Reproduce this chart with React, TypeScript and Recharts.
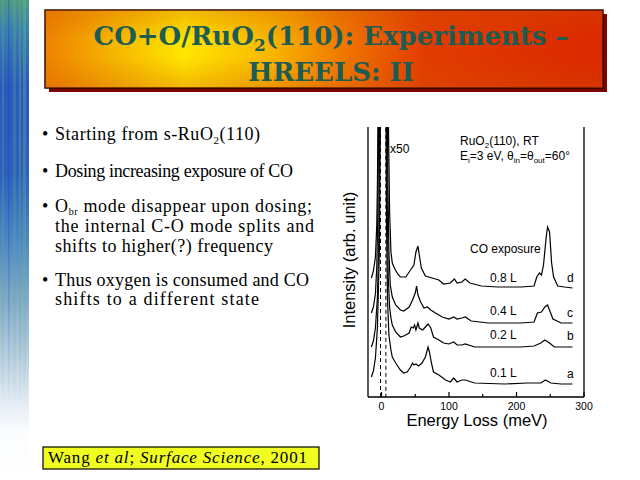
import React from "react";
import { LineChart, Line, XAxis, YAxis, ReferenceLine } from "recharts";

// HREELS of CO dosed on s-RuO2(110). Energy loss in meV, intensity in arb. units
// (spectra are vertically offset, the elastic peak runs off the top at x50)
const spectrumA: [number, number][] = [
  [-15, 20], [-12, 26], [-9, 39], [-6, 70], [-3, 150], [-1.5, 300], [-0.5, 600], [0, 800], [4, 600], [6.5, 300],
  [7.5, 170], [9, 95], [11, 62], [14, 47], [16, 40], [21, 34], [28, 27], [33, 24], [38, 25], [43, 30], [46, 34],
  [48, 32], [51, 33], [55, 31], [60, 34], [65, 40], [69, 50], [71, 45], [74, 34], [77, 25], [85, 22], [95, 17],
  [102, 15], [107, 19], [112, 15], [119, 17], [124, 17], [138, 14], [182, 13], [216, 14], [236, 14],
  [243, 17], [251, 14], [266, 13], [283, 13],
];
const spectrumB: [number, number][] = [
  [-15, 50], [-12, 56], [-9, 69], [-6, 100], [-4, 160], [-2.5, 300], [-1, 600], [0, 800], [5, 600], [7.5, 300],
  [8.5, 190], [10, 120], [12, 90], [14, 79], [16, 72], [21, 65], [28, 60], [33, 61], [41, 64], [44, 70],
  [47, 69], [49, 72], [51, 67], [54, 74], [56, 69], [61, 67], [65, 70], [69, 73], [73, 69], [77, 60], [85, 57],
  [92, 54], [100, 53], [107, 55], [112, 52], [119, 52], [124, 53], [138, 50], [167, 50], [207, 50], [226, 51],
  [236, 54], [242, 57], [249, 54], [256, 50], [266, 50], [283, 50],
];
const spectrumC: [number, number][] = [
  [-15, 84], [-12, 90], [-9, 103], [-7, 130], [-5.5, 180], [-4, 300], [-2, 600], [0, 800], [6, 600], [8.5, 300],
  [9.5, 210], [11, 145], [13, 112], [16, 100], [21, 92], [28, 87], [33, 86], [41, 90], [46, 97], [50, 104],
  [52, 111], [54, 102], [58, 95], [63, 89], [68, 90], [73, 87], [80, 84], [90, 80], [100, 78], [107, 80],
  [112, 78], [119, 79], [124, 80], [133, 76], [158, 74], [207, 74], [226, 75], [231, 84], [237, 85], [242, 90],
  [246, 92], [250, 85], [254, 78], [266, 74], [283, 74],
];
const spectrumD: [number, number][] = [
  [-15, 119], [-12, 126], [-9, 140], [-7, 172], [-6, 215], [-5, 300], [-3, 600], [0, 800], [8, 600], [10, 300],
  [10.5, 260], [12, 185], [14, 145], [16, 134], [19, 129], [24, 123], [28, 120], [36, 120], [43, 127],
  [48, 132], [51, 145], [54, 151], [56, 142], [59, 129], [65, 121], [75, 119], [85, 117], [92, 113], [102, 114],
  [108, 118], [112, 114], [119, 115], [124, 118], [131, 114], [148, 111], [172, 110], [207, 110], [226, 111],
  [230, 120], [234, 124], [237, 122], [240, 132], [244, 160], [246, 170], [249, 165], [252, 134], [255, 120],
  [261, 111], [271, 110], [283, 109],
];
// unscaled (x1) elastic peak, drawn dashed; its top is far off scale
const elasticX1: [number, number][] = [[-1.5, 0], [-1.3, 1000], [6.3, 1000], [6.5, 0]];

const xTicks = [0, 50, 100, 150, 200, 250, 300];
const exposures = ["0.8 L", "0.4 L", "0.2 L", "0.1 L"];
const letters = ["d", "c", "b", "a"];

const SANS = "'Liberation Sans', Arial, Helvetica, sans-serif";
const SERIF = "'Liberation Serif', 'Times New Roman', serif";

const pts = (arr: [number, number][]) => arr.map(([e, i]) => ({ e, i }));

function BottomTick(props: any) {
  const { x, y, payload } = props;
  const major = payload.value % 100 === 0;
  return (
    <g>
      <line x1={x} x2={x} y1={y} y2={y - (major ? 5 : 3)} stroke="#000" strokeWidth={1.2} />
      {major && (
        <text x={x} y={y + 12.5} textAnchor="middle" fontSize={10.5} fontFamily={SANS} fill="#000">
          {payload.value}
        </text>
      )}
    </g>
  );
}

function TopTick(props: any) {
  const { x, y, payload } = props;
  const major = payload.value % 100 === 0;
  return <line x1={x} x2={x} y1={y} y2={y + (major ? 5 : 3)} stroke="#000" strokeWidth={1.2} />;
}

function Spectra() {
  const series = [spectrumA, spectrumB, spectrumC, spectrumD];
  return (
    <LineChart width={280} height={320} margin={{ top: 12, right: 26, left: 38, bottom: 0 }}>
      <XAxis
        type="number"
        dataKey="e"
        domain={[-20, 300]}
        allowDataOverflow
        ticks={xTicks}
        interval={0}
        height={38}
        tickSize={0}
        tickMargin={0}
        tickLine={false}
        axisLine={{ stroke: "#000", strokeWidth: 1.3 }}
        tick={(p: any) => <BottomTick {...p} />}
      />
      <XAxis
        xAxisId="top"
        orientation="top"
        type="number"
        dataKey="e"
        domain={[-20, 300]}
        allowDataOverflow
        ticks={xTicks}
        interval={0}
        height={0}
        tickSize={0}
        tickMargin={0}
        tickLine={false}
        axisLine={{ stroke: "#000", strokeWidth: 1.3 }}
        tick={(p: any) => <TopTick {...p} />}
      />
      <YAxis type="number" dataKey="i" domain={[0, 270]} allowDataOverflow hide />
      <ReferenceLine x={-20} stroke="#000" strokeWidth={1.3} />
      <ReferenceLine x={300} stroke="#000" strokeWidth={1.3} />
      <Line
        data={pts(elasticX1)}
        dataKey="i"
        stroke="#000"
        strokeWidth={1}
        strokeDasharray="4 3"
        dot={false}
        isAnimationActive={false}
      />
      {series.map((s, k) => (
        <Line
          key={k}
          data={pts(s)}
          dataKey="i"
          type="linear"
          stroke="#000"
          strokeWidth={1.2}
          dot={false}
          isAnimationActive={false}
        />
      ))}
    </LineChart>
  );
}

export default function App() {
  const labelY = [282, 315, 339, 377];
  const letterY = [282, 317, 340, 378];
  return (
    <div style={{ position: "absolute", left: 0, top: 0, width: 640, height: 480, background: "#fff", overflow: "hidden" }}>
      <svg width={640} height={480} style={{ position: "absolute", left: 0, top: 0 }}>
        <defs>
          <linearGradient id="strip" x1="0" y1="0" x2="0" y2="1">
            <stop offset="0" stopColor="#4f9a86" />
            <stop offset="0.06" stopColor="#3a7fb4" />
            <stop offset="0.18" stopColor="#2b58c2" />
            <stop offset="0.36" stopColor="#2d5fc0" />
            <stop offset="0.5" stopColor="#4d86c6" />
            <stop offset="0.62" stopColor="#7fa9c9" />
            <stop offset="0.74" stopColor="#b6cde0" />
            <stop offset="0.84" stopColor="#e4ecf4" />
            <stop offset="0.9" stopColor="#fafcfe" />
            <stop offset="1" stopColor="#ffffff" />
          </linearGradient>
          <linearGradient id="fade" x1="0" y1="0" x2="0" y2="1">
            <stop offset="0" stopColor="#fff" stopOpacity="1" />
            <stop offset="0.6" stopColor="#fff" stopOpacity="0.7" />
            <stop offset="0.85" stopColor="#fff" stopOpacity="0" />
          </linearGradient>
          <mask id="streakMask">
            <rect x={0} y={0} width={29} height={480} fill="url(#fade)" />
          </mask>
          <linearGradient id="titleGrad" x1="0" y1="0" x2="1" y2="0">
            <stop offset="0" stopColor="#ee8200" />
            <stop offset="0.12" stopColor="#f6b400" />
            <stop offset="0.25" stopColor="#ffe600" />
            <stop offset="0.4" stopColor="#f9b800" />
            <stop offset="0.55" stopColor="#ee7000" />
            <stop offset="0.68" stopColor="#e23c00" />
            <stop offset="1" stopColor="#db2800" />
          </linearGradient>
          <linearGradient id="titleShade" x1="0" y1="0" x2="0" y2="1">
            <stop offset="0" stopColor="#d05000" stopOpacity="0.3" />
            <stop offset="0.4" stopColor="#d05000" stopOpacity="0" />
            <stop offset="0.6" stopColor="#d05000" stopOpacity="0" />
            <stop offset="1" stopColor="#d05000" stopOpacity="0.3" />
          </linearGradient>
        </defs>

        {/* left decorative strip */}
        <rect x={0} y={0} width={29} height={480} fill="url(#strip)" />
        <g mask="url(#streakMask)">
          <rect x={2} y={0} width={2} height={480} fill="#5fb070" opacity={0.35} />
          <rect x={8} y={0} width={1.5} height={480} fill="#1a3a9a" opacity={0.3} />
          <rect x={13} y={0} width={3} height={480} fill="#62b478" opacity={0.3} />
          <rect x={19} y={0} width={2} height={480} fill="#5ab070" opacity={0.45} />
          <rect x={23} y={0} width={3} height={480} fill="#6cbc80" opacity={0.4} />
        </g>

        {/* title box */}
        <rect x={49} y={14} width={558} height={78} fill="#7a0505" />
        <rect x={45} y={10} width={558} height={78} fill="url(#titleGrad)" stroke="#2a0800" strokeWidth={1.5} />
        <rect x={45} y={10} width={558} height={78} fill="url(#titleShade)" />
        <g fontFamily="'DejaVu Serif', serif" fontWeight="bold" fontSize={26} fill="#1c5c52" textAnchor="middle">
          <text x={331} y={45}>
            CO+O/RuO<tspan fontSize={17} dy={6}>2</tspan>
            <tspan dy={-6}>(110): Experiments –</tspan>
          </text>
          <text x={331} y={81}>HREELS: II</text>
        </g>

        {/* bullets */}
        <g fontFamily={SERIF} fontSize={18} fill="#000">
          {[140, 177, 212, 286].map((y) => (
            <text key={y} x={42} y={y} fontSize={18}>•</text>
          ))}
          <text x={55} y={140} textLength={205} lengthAdjust="spacing">
            Starting from s-RuO<tspan fontSize={11} dy={4}>2</tspan>
            <tspan dy={-4}>(110)</tspan>
          </text>
          <text x={55} y={177} textLength={238} lengthAdjust="spacing">Dosing increasing exposure of CO</text>
          <text x={55} y={212} textLength={257} lengthAdjust="spacing">
            O<tspan fontSize={10} dy={3}>br</tspan>
            <tspan dy={-3}> mode disappear upon dosing;</tspan>
          </text>
          <text x={55} y={232} textLength={259} lengthAdjust="spacing">the internal C-O mode splits and</text>
          <text x={55} y={252} textLength={218} lengthAdjust="spacing">shifts to higher(?) frequency</text>
          <text x={55} y={286} textLength={254} lengthAdjust="spacing">Thus oxygen is consumed and CO</text>
          <text x={55} y={305} textLength={204} lengthAdjust="spacing">shifts to a different state</text>
        </g>

        {/* citation */}
        <rect x={43} y={447} width={276} height={22} fill="#f0ff20" stroke="#000" strokeWidth={1.2} />
        <text x={48} y={463} fontFamily={SERIF} fontSize={17} fill="#000" textLength={259} lengthAdjust="spacing">
          Wang <tspan fontStyle="italic">et al</tspan>; <tspan fontStyle="italic">Surface Science</tspan>, 2001
        </text>

        {/* chart annotations */}
        <g fontFamily={SANS} fill="#000">
          <text x={390} y={153} fontSize={12}>x50</text>
          <text x={460} y={145} fontSize={12}>
            RuO<tspan fontSize={8} dy={3}>2</tspan>
            <tspan dy={-3}>(110), RT</tspan>
          </text>
          <text x={460} y={160} fontSize={12}>
            E<tspan fontSize={8} dy={3}>i</tspan>
            <tspan dy={-3}>=3 eV, θ</tspan>
            <tspan fontSize={8} dy={3}>in</tspan>
            <tspan dy={-3}>=θ</tspan>
            <tspan fontSize={8} dy={3}>out</tspan>
            <tspan dy={-3}>=60°</tspan>
          </text>
          <text x={470} y={253} fontSize={12}>CO exposure</text>
          {exposures.map((t, k) => (
            <text key={t} x={490} y={labelY[k]} fontSize={12}>{t}</text>
          ))}
          {letters.map((t, k) => (
            <text key={t} x={567} y={letterY[k]} fontSize={12}>{t}</text>
          ))}
          <text x={477} y={426} fontSize={16.5} textAnchor="middle">Energy Loss (meV)</text>
          <text x={355} y={260} fontSize={16.5} textAnchor="middle" transform="rotate(-90 355 260)">
            Intensity (arb. unit)
          </text>
        </g>
      </svg>
      <div style={{ position: "absolute", left: 330, top: 115 }}>
        <Spectra />
      </div>
    </div>
  );
}
